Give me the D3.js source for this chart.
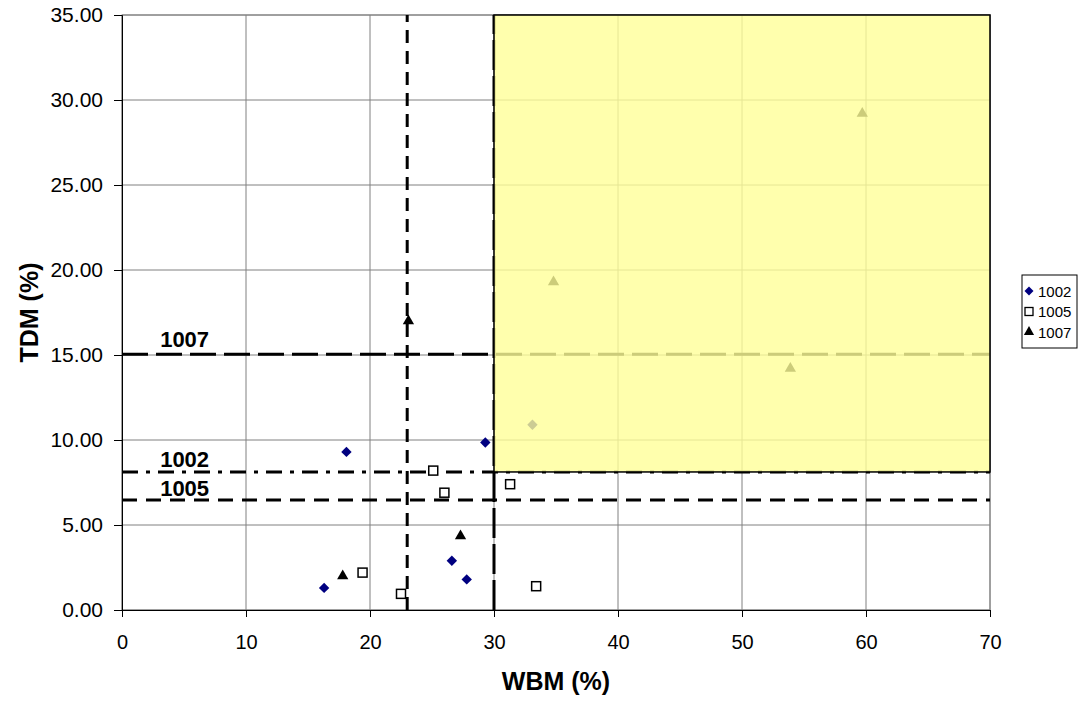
<!DOCTYPE html>
<html><head><meta charset="utf-8">
<script src="https://cdn.jsdelivr.net/npm/d3@7"></script>
<style>body{margin:0;background:#fff;font-family:Arial,"Liberation Sans",sans-serif}</style>
</head><body><svg id="c" width="1083" height="704"></svg>
<script>
const s1002 = [[16.3,1.3],[18.1,9.3],[29.3,9.85],[26.6,2.9],[27.8,1.8],[33.1,10.9]];
const s1005 = [[19.4,2.2],[22.5,0.95],[25.1,8.2],[26.0,6.9],[31.3,7.4],[33.4,1.4]];
const s1007 = [[17.8,2.0],[23.1,17.0],[27.3,4.35],[34.8,19.3],[53.9,14.2],[59.7,29.2]];
const xTicks = [0,10,20,30,40,50,60,70];
const yTicks = [0,5,10,15,20,25,30,35];
const thresholds = [{name:"1007", y:15.05},{name:"1002", y:8.12},{name:"1005", y:6.47}];
const vLines = [23, 30];
const zone = {x0:30, x1:70, y0:8.12, y1:35};

const svg = d3.select("#c");
const L=122, R=990, T=15, B=610;
const x = d3.scaleLinear().domain([0,70]).range([L,R]);
const y = d3.scaleLinear().domain([0,35]).range([B,T]);
const g = svg.append("g");
const FF = "Arial, 'Liberation Sans', sans-serif";

// grid
g.selectAll(".gx").data(xTicks).enter().append("line")
 .attr("x1",d=>x(d)).attr("x2",d=>x(d)).attr("y1",T).attr("y2",B)
 .attr("stroke","#808080").attr("stroke-width",1);
g.selectAll(".gy").data(yTicks).enter().append("line")
 .attr("y1",d=>y(d)).attr("y2",d=>y(d)).attr("x1",L).attr("x2",R)
 .attr("stroke","#808080").attr("stroke-width",1);
g.append("rect").attr("x",L).attr("y",T).attr("width",R-L).attr("height",B-T)
 .attr("fill","none").attr("stroke","#808080");

// axes
const xa = g.append("g").attr("transform",`translate(0,${B})`)
 .call(d3.axisBottom(x).tickValues(xTicks).tickSize(7).tickPadding(18).tickFormat(d3.format("d")));
const ya = g.append("g").attr("transform",`translate(${L},0)`)
 .call(d3.axisLeft(y).tickValues(yTicks).tickSize(8).tickPadding(11).tickFormat(d3.format(".2f")));
xa.selectAll("text").attr("font-size",20);
ya.selectAll("text").attr("font-size",21);
[xa,ya].forEach(a=>{a.selectAll("text").attr("font-family",FF).attr("fill","#000");
 a.selectAll("line,path").attr("stroke","#000");});

// threshold lines
const hStyles = {"1007":{dash:"26,8",w:3},"1002":{dash:"16,8,4,8",w:3},"1005":{dash:"15,9",w:3}};
g.selectAll(".th").data(thresholds).enter().append("line")
 .attr("x1",x(0)).attr("x2",x(70)).attr("y1",d=>y(d.y)).attr("y2",d=>y(d.y))
 .attr("stroke","#000").attr("stroke-width",d=>hStyles[d.name].w)
 .attr("stroke-dasharray",d=>hStyles[d.name].dash);
g.selectAll(".thl").data(thresholds).enter().append("text")
 .attr("x",x(5.05)).attr("y",(d,i)=>y(d.y)-(i===0?7:4.5)).attr("text-anchor","middle")
 .attr("font-family",FF).attr("font-size",22).attr("font-weight","bold").text(d=>d.name);
const vStyles = [{dash:"13,8",w:3},{dash:"30,6",w:3}];
g.selectAll(".vl").data(vLines).enter().append("line")
 .attr("x1",d=>x(d)).attr("x2",d=>x(d)).attr("y1",y(0)).attr("y2",y(35))
 .attr("stroke","#000").attr("stroke-width",(d,i)=>vStyles[i].w)
 .attr("stroke-dasharray",(d,i)=>vStyles[i].dash);

// points
const diamondPath = r=>`M0,${-r}L${r},0L0,${r}L${-r},0Z`;
const tri = d3.symbol().type(d3.symbolTriangle).size(55);
g.selectAll(".p2").data(s1002).enter().append("path").attr("d",diamondPath(5.2))
 .attr("transform",d=>`translate(${x(d[0])},${y(d[1])})`).attr("fill","#000080");
g.selectAll(".p5").data(s1005).enter().append("rect")
 .attr("x",d=>x(d[0])-4.5).attr("y",d=>y(d[1])-4.5).attr("width",9).attr("height",9)
 .attr("fill","#fff").attr("stroke","#000").attr("stroke-width",1.5);
g.selectAll(".p7").data(s1007).enter().append("path").attr("d",tri)
 .attr("transform",d=>`translate(${x(d[0])},${y(d[1])})`).attr("fill","#000");

// yellow zone overlay
g.append("rect").attr("x",x(zone.x0)).attr("y",y(zone.y1))
 .attr("width",x(zone.x1)-x(zone.x0)).attr("height",y(zone.y0)-y(zone.y1))
 .attr("fill","#ffff99").attr("fill-opacity",0.8).attr("stroke","#000").attr("stroke-width",1.5);

// axis titles
svg.append("text").attr("x",(L+R)/2).attr("y",690).attr("text-anchor","middle")
 .attr("font-family",FF).attr("font-size",25).attr("font-weight","bold").text("WBM (%)");
svg.append("text").attr("transform",`translate(38,${(T+B)/2}) rotate(-90)`).attr("text-anchor","middle")
 .attr("font-family",FF).attr("font-size",25).attr("font-weight","bold").text("TDM (%)");

// legend
const lg = svg.append("g").attr("transform","translate(1022,275)");
lg.append("rect").attr("width",55).attr("height",73).attr("fill","#fff").attr("stroke","#000");
const items = [{n:"1002",t:"d"},{n:"1005",t:"s"},{n:"1007",t:"t"}];
items.forEach((it,i)=>{
  const cy = 16+i*20.5;
  if(it.t==="d") lg.append("path").attr("d",diamondPath(4.5)).attr("transform",`translate(7,${cy})`).attr("fill","#000080");
  if(it.t==="s") lg.append("rect").attr("x",3).attr("y",cy-4).attr("width",8).attr("height",8).attr("fill","#fff").attr("stroke","#000").attr("stroke-width",1.3);
  if(it.t==="t") lg.append("path").attr("d",d3.symbol().type(d3.symbolTriangle).size(45)).attr("transform",`translate(7,${cy})`).attr("fill","#000");
  lg.append("text").attr("x",16).attr("y",cy+5.5).attr("font-family",FF).attr("font-size",15).text(it.n);
});
</script></body></html>
